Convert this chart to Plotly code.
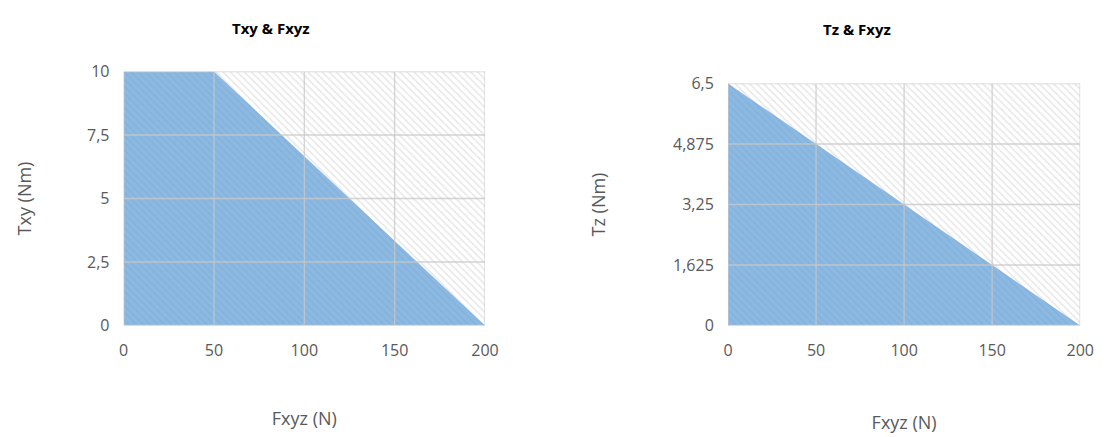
import plotly.graph_objects as go

# Limites Txy x Fxyz
fxyz_xy = [0, 50, 200]
txy = [10, 10, 0]
txy_ticks = [0, 2.5, 5, 7.5, 10]
txy_labels = ["0", "2,5", "5", "7,5", "10"]

# Limites Tz x Fxyz
fxyz_z = [0, 200]
tz = [6.5, 0]
tz_ticks = [0, 1.625, 3.25, 4.875, 6.5]
tz_labels = ["0", "1,625", "3,25", "4,875", "6,5"]

x_ticks = [0, 50, 100, 150, 200]

fig = go.Figure()
grade = []


def add_painel(xs, ys, ymax, yticks, xa, ya):
    # fundo hachurado
    fig.add_trace(go.Scatter(
        x=[0, 200], y=[ymax, ymax], xaxis=xa, yaxis=ya, mode='lines',
        line=dict(width=0), fill='tozeroy', fillcolor='white',
        fillpattern=dict(shape='\\', fgcolor='#cfcfcf', bgcolor='white', size=5, solidity=0.3),
        hoverinfo='skip', showlegend=False))
    fig.add_trace(go.Scatter(
        x=xs, y=ys, xaxis=xa, yaxis=ya, mode='lines',
        line=dict(width=0), fill='tozeroy', fillcolor='rgba(91,155,213,0.7)',
        showlegend=False))
    # grade por cima da área
    for t in x_ticks:
        grade.append(dict(type='line', xref=xa, yref=ya, x0=t, x1=t, y0=0, y1=ymax,
                          line=dict(color='rgba(200,200,200,0.8)', width=1.3), layer='above'))
    for t in yticks:
        grade.append(dict(type='line', xref=xa, yref=ya, x0=0, x1=200, y0=t, y1=t,
                          line=dict(color='rgba(200,200,200,0.8)', width=1.3), layer='above'))


add_painel(fxyz_xy, txy, 10, txy_ticks, 'x', 'y')
add_painel(fxyz_z, tz, 6.5, tz_ticks, 'x2', 'y2')

eixo = dict(showgrid=False, zeroline=False, showline=False,
            tickfont=dict(size=16, color='#595959'), ticks='outside', ticklen=10, tickcolor='white')

fig.update_layout(
    width=1104, height=437, plot_bgcolor='white', paper_bgcolor='white',
    margin=dict(l=0, r=0, t=0, b=0),
    font=dict(family='Open Sans, sans-serif', color='#595959'),
    shapes=grade,
    xaxis=dict(eixo, domain=[0.102, 0.435], range=[0, 200], tickvals=x_ticks,
               title=dict(text='Fxyz (N)', font=dict(size=18), standoff=52), anchor='y'),
    yaxis=dict(eixo, domain=[0.2614, 0.8735], range=[0, 10], tickvals=txy_ticks, ticktext=txy_labels,
               title=dict(text='Txy (Nm)', font=dict(size=18), standoff=50), anchor='x'),
    xaxis2=dict(eixo, domain=[0.659, 0.9836], range=[0, 200], tickvals=x_ticks,
                title=dict(text='Fxyz (N)', font=dict(size=18), standoff=56), anchor='y2'),
    yaxis2=dict(eixo, domain=[0.2614, 0.8446], range=[0, 6.5], tickvals=tz_ticks, ticktext=tz_labels,
                title=dict(text='Tz (Nm)', font=dict(size=18), standoff=62), anchor='x2'),
    annotations=[
        dict(text='<b>Txy & Fxyz</b>', x=0.2, y=1.008, xref='paper', yref='paper',
             showarrow=False, font=dict(size=15, color='black')),
        dict(text='<b>Tz & Fxyz</b>', x=0.811, y=1.004, xref='paper', yref='paper',
             showarrow=False, font=dict(size=15, color='black')),
    ],
)

fig.write_html("out.html")
